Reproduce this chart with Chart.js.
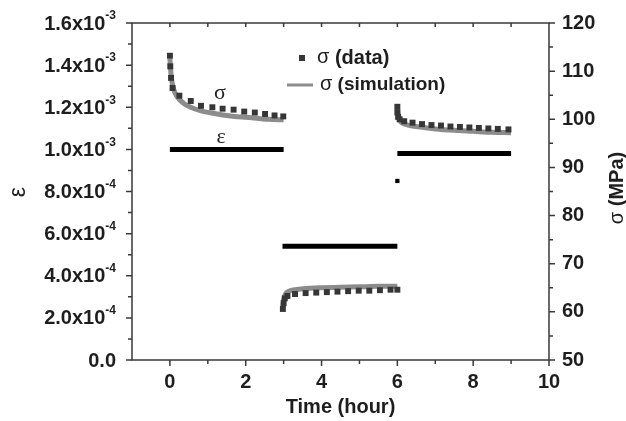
<!DOCTYPE html>
<html lang="en">
<head>
<meta charset="UTF-8">
<title>Strain and stress vs time</title>
<script src="https://cdn.jsdelivr.net/npm/chart.js@4"></script>
<style>
  html, body { margin: 0; padding: 0; background: #fff; }
</style>
</head>
<body>
<canvas id="chart" width="626" height="421"></canvas>
<script>
// strain steps (left axis)
const strainTimes = [[0, 3], [2.97, 6], [6, 9]];
const strainLevels = [1.0e-3, 5.4e-4, 9.8e-4];
const strainSpikeT = [6];
const strainSpike = [8.5e-4];

// sigma, measured (right axis, MPa)
const dataT1 = [0, 0.01, 0.03, 0.07, 0.25, 0.55, 0.82, 1.12, 1.39, 1.68, 1.96, 2.24, 2.51, 2.76, 2.99];
const dataS1 = [113.2, 111.0, 108.6, 106.5, 104.9, 103.8, 102.8, 102.5, 102.2, 102.0, 101.6, 101.4, 101.1, 100.8, 100.6];
const dataT2 = [2.98, 3.0, 3.03, 3.1, 3.3, 3.58, 3.86, 4.14, 4.42, 4.7, 4.98, 5.26, 5.54, 5.82, 6.0];
const dataS2 = [60.6, 61.8, 62.8, 63.3, 63.7, 63.9, 64.0, 64.1, 64.2, 64.3, 64.4, 64.4, 64.5, 64.6, 64.6];
const dataT3 = [6.0, 6.0, 6.02, 6.06, 6.18, 6.4, 6.65, 6.9, 7.15, 7.4, 7.65, 7.9, 8.15, 8.4, 8.65, 8.93];
const dataS3 = [102.6, 101.4, 100.5, 100.0, 99.6, 99.3, 99.0, 98.8, 98.7, 98.5, 98.4, 98.3, 98.2, 98.1, 98.0, 97.9];

// sigma, simulation
const simT1 = [0, 0.02, 0.05, 0.1, 0.2, 0.35, 0.55, 0.8, 1.1, 1.4, 1.7, 2.0, 2.3, 2.6, 3.0];
const simS1 = [112.6, 110.2, 108.0, 106.2, 104.6, 103.4, 102.5, 101.8, 101.3, 100.9, 100.6, 100.4, 100.2, 100.0, 99.9];
const simT2 = [2.98, 3.0, 3.03, 3.08, 3.18, 3.4, 3.7, 4.0, 4.5, 5.0, 5.5, 6.0];
const simS2 = [61.0, 62.4, 63.4, 64.0, 64.4, 64.7, 64.9, 65.0, 65.1, 65.2, 65.3, 65.3];
const simT3 = [6.0, 6.02, 6.05, 6.1, 6.2, 6.4, 6.7, 7.0, 7.5, 8.0, 8.5, 9.0];
const simS3 = [102.3, 101.0, 100.0, 99.4, 99.0, 98.6, 98.3, 98.0, 97.7, 97.5, 97.3, 97.2];

// tick labels
const xTicks = [0, 2, 4, 6, 8, 10];
const leftTicks = [0, 2e-4, 4e-4, 6e-4, 8e-4, 1.0e-3, 1.2e-3, 1.4e-3, 1.6e-3];
const leftMant = ['0.0', '2.0x10', '4.0x10', '6.0x10', '8.0x10', '1.0x10', '1.2x10', '1.4x10', '1.6x10'];
const leftExp = ['', '-4', '-4', '-4', '-4', '-3', '-3', '-3', '-3'];
const rightTicks = [50, 60, 70, 80, 90, 100, 110, 120];

function zip(t, v) {
    return t.map((x, i) => ({ x: x, y: v[i] }));
}

const datasets = [];
[[dataT1, dataS1], [dataT2, dataS2], [dataT3, dataS3]].forEach(p => {
    datasets.push({
        data: zip(p[0], p[1]), yAxisID: 'yR', showLine: false,
        pointStyle: 'rect', pointRadius: 4.2, backgroundColor: '#363636',
        borderWidth: 0, order: 0
    });
});
datasets.push({
    data: zip(strainSpikeT, strainSpike), yAxisID: 'yL', showLine: false,
    pointStyle: 'rect', pointRadius: 3, backgroundColor: '#000', borderWidth: 0, order: 0
});
strainTimes.forEach((t, i) => {
    datasets.push({
        data: zip(t, [strainLevels[i], strainLevels[i]]), yAxisID: 'yL',
        borderColor: '#000', borderWidth: 5, pointRadius: 0, borderCapStyle: 'butt', order: 1
    });
});
[[simT1, simS1], [simT2, simS2], [simT3, simS3]].forEach(p => {
    datasets.push({
        data: zip(p[0], p[1]), yAxisID: 'yR',
        borderColor: '#8c8c8c', borderWidth: 5, pointRadius: 0,
        cubicInterpolationMode: 'monotone', order: 2
    });
});

const BOLD = 'bold 20px "Liberation Sans", Arial, sans-serif';
const SMALL = 'bold 12px "Liberation Sans", Arial, sans-serif';
const SYM = '20px "Liberation Sans", Arial, sans-serif';

const axesPlugin = {
    id: 'axesPlugin',
    afterDraw(chart) {
        const ctx = chart.ctx;
        const a = chart.chartArea;
        const sx = chart.scales.x, yL = chart.scales.yL, yR = chart.scales.yR;
        ctx.save();
        ctx.strokeStyle = '#3a3a3a';
        ctx.lineWidth = 1.5;
        ctx.strokeRect(a.left, a.top, a.right - a.left, a.bottom - a.top);

        ctx.beginPath();
        // x ticks: bottom outward, top inward
        for (let v = 0; v <= 10; v++) {
            const px = sx.getPixelForValue(v);
            const len = v % 2 === 0 ? 6 : 4;
            ctx.moveTo(px, a.bottom); ctx.lineTo(px, a.bottom + len);
            if (v < 10) { ctx.moveTo(px, a.top); ctx.lineTo(px, a.top + 4); }
        }
        // left ticks
        for (let k = 0; k <= 16; k++) {
            const py = yL.getPixelForValue(k * 1e-4);
            const len = k % 2 === 0 ? 6 : 4;
            ctx.moveTo(a.left, py); ctx.lineTo(a.left - len, py);
        }
        // right ticks
        for (let v = 50; v <= 120; v += 5) {
            const py = yR.getPixelForValue(v);
            const len = v % 10 === 0 ? 6 : 4;
            ctx.moveTo(a.right, py); ctx.lineTo(a.right + len, py);
        }
        ctx.stroke();

        ctx.fillStyle = '#1e1e1e';
        ctx.textBaseline = 'middle';

        // x labels
        ctx.font = BOLD;
        ctx.textAlign = 'center';
        xTicks.forEach(v => ctx.fillText(String(v), sx.getPixelForValue(v), a.bottom + 22));
        ctx.fillText('Time (hour)', (a.left + a.right) / 2, a.bottom + 47);

        // right labels
        ctx.textAlign = 'left';
        rightTicks.forEach(v => ctx.fillText(String(v), a.right + 13, yR.getPixelForValue(v)));

        // left labels with superscript exponent
        const rightEdge = a.left - 16;
        leftTicks.forEach((v, i) => {
            const py = yL.getPixelForValue(v);
            ctx.font = SMALL;
            const ew = leftExp[i] ? ctx.measureText(leftExp[i]).width : 0;
            if (leftExp[i]) {
                ctx.textAlign = 'right';
                ctx.fillText(leftExp[i], rightEdge, py - 7);
            }
            ctx.font = BOLD;
            ctx.textAlign = 'right';
            ctx.fillText(leftMant[i], rightEdge - ew, py + 1);
        });

        // left axis title
        ctx.save();
        ctx.translate(19, 192);
        ctx.rotate(-Math.PI / 2);
        ctx.textAlign = 'center';
        ctx.font = '23px "Liberation Sans", Arial, sans-serif';
        ctx.fillText('ε', 0, 0);
        ctx.restore();

        // right axis title
        ctx.save();
        ctx.translate(617, 188);
        ctx.rotate(-Math.PI / 2);
        ctx.font = SYM;
        const w1 = ctx.measureText('σ').width;
        ctx.font = BOLD;
        const w2 = ctx.measureText(' (MPa)').width;
        ctx.textAlign = 'left';
        ctx.font = SYM;
        ctx.fillText('σ', -(w1 + w2) / 2, 0);
        ctx.font = BOLD;
        ctx.fillText(' (MPa)', -(w1 + w2) / 2 + w1, 0);
        ctx.restore();

        // legend
        ctx.fillStyle = '#363636';
        ctx.fillRect(299, 55, 6, 6);
        ctx.strokeStyle = '#8c8c8c';
        ctx.lineWidth = 3;
        ctx.beginPath();
        ctx.moveTo(287, 85); ctx.lineTo(313, 85);
        ctx.stroke();
        ctx.fillStyle = '#1e1e1e';
        ctx.textAlign = 'left';
        ctx.font = SYM;
        ctx.fillText('σ', 317, 57);
        ctx.fillText('σ', 320, 84);
        const sw = ctx.measureText('σ').width;
        ctx.font = BOLD;
        ctx.fillText(' (data)', 317 + sw, 58);
        ctx.font = 'bold 19px "Liberation Sans", Arial, sans-serif';
        ctx.fillText(' (simulation)', 320 + sw, 85);

        // curve annotations
        ctx.textAlign = 'center';
        ctx.font = '22px "Liberation Serif", serif';
        ctx.fillText('σ', sx.getPixelForValue(1.32), 93);
        ctx.fillText('ε', sx.getPixelForValue(1.35), 137);
        ctx.restore();
    }
};

new Chart(document.getElementById('chart'), {
    type: 'line',
    data: { datasets: datasets },
    options: {
        responsive: false,
        animation: false,
        layout: { padding: { top: 23, left: 0, right: 0, bottom: 0 } },
        plugins: { legend: { display: false }, tooltip: { enabled: false } },
        scales: {
            x: {
                type: 'linear', position: 'bottom', min: -1, max: 10,
                grid: { display: false }, border: { display: false }, ticks: { display: false },
                afterFit(s) { s.height = 61; }
            },
            yL: {
                type: 'linear', position: 'left', min: 0, max: 1.6e-3,
                grid: { display: false }, border: { display: false }, ticks: { display: false },
                afterFit(s) { s.width = 132; }
            },
            yR: {
                type: 'linear', position: 'right', min: 50, max: 120,
                grid: { display: false }, border: { display: false }, ticks: { display: false },
                afterFit(s) { s.width = 77; }
            }
        }
    },
    plugins: [axesPlugin]
});
</script>
</body>
</html>
